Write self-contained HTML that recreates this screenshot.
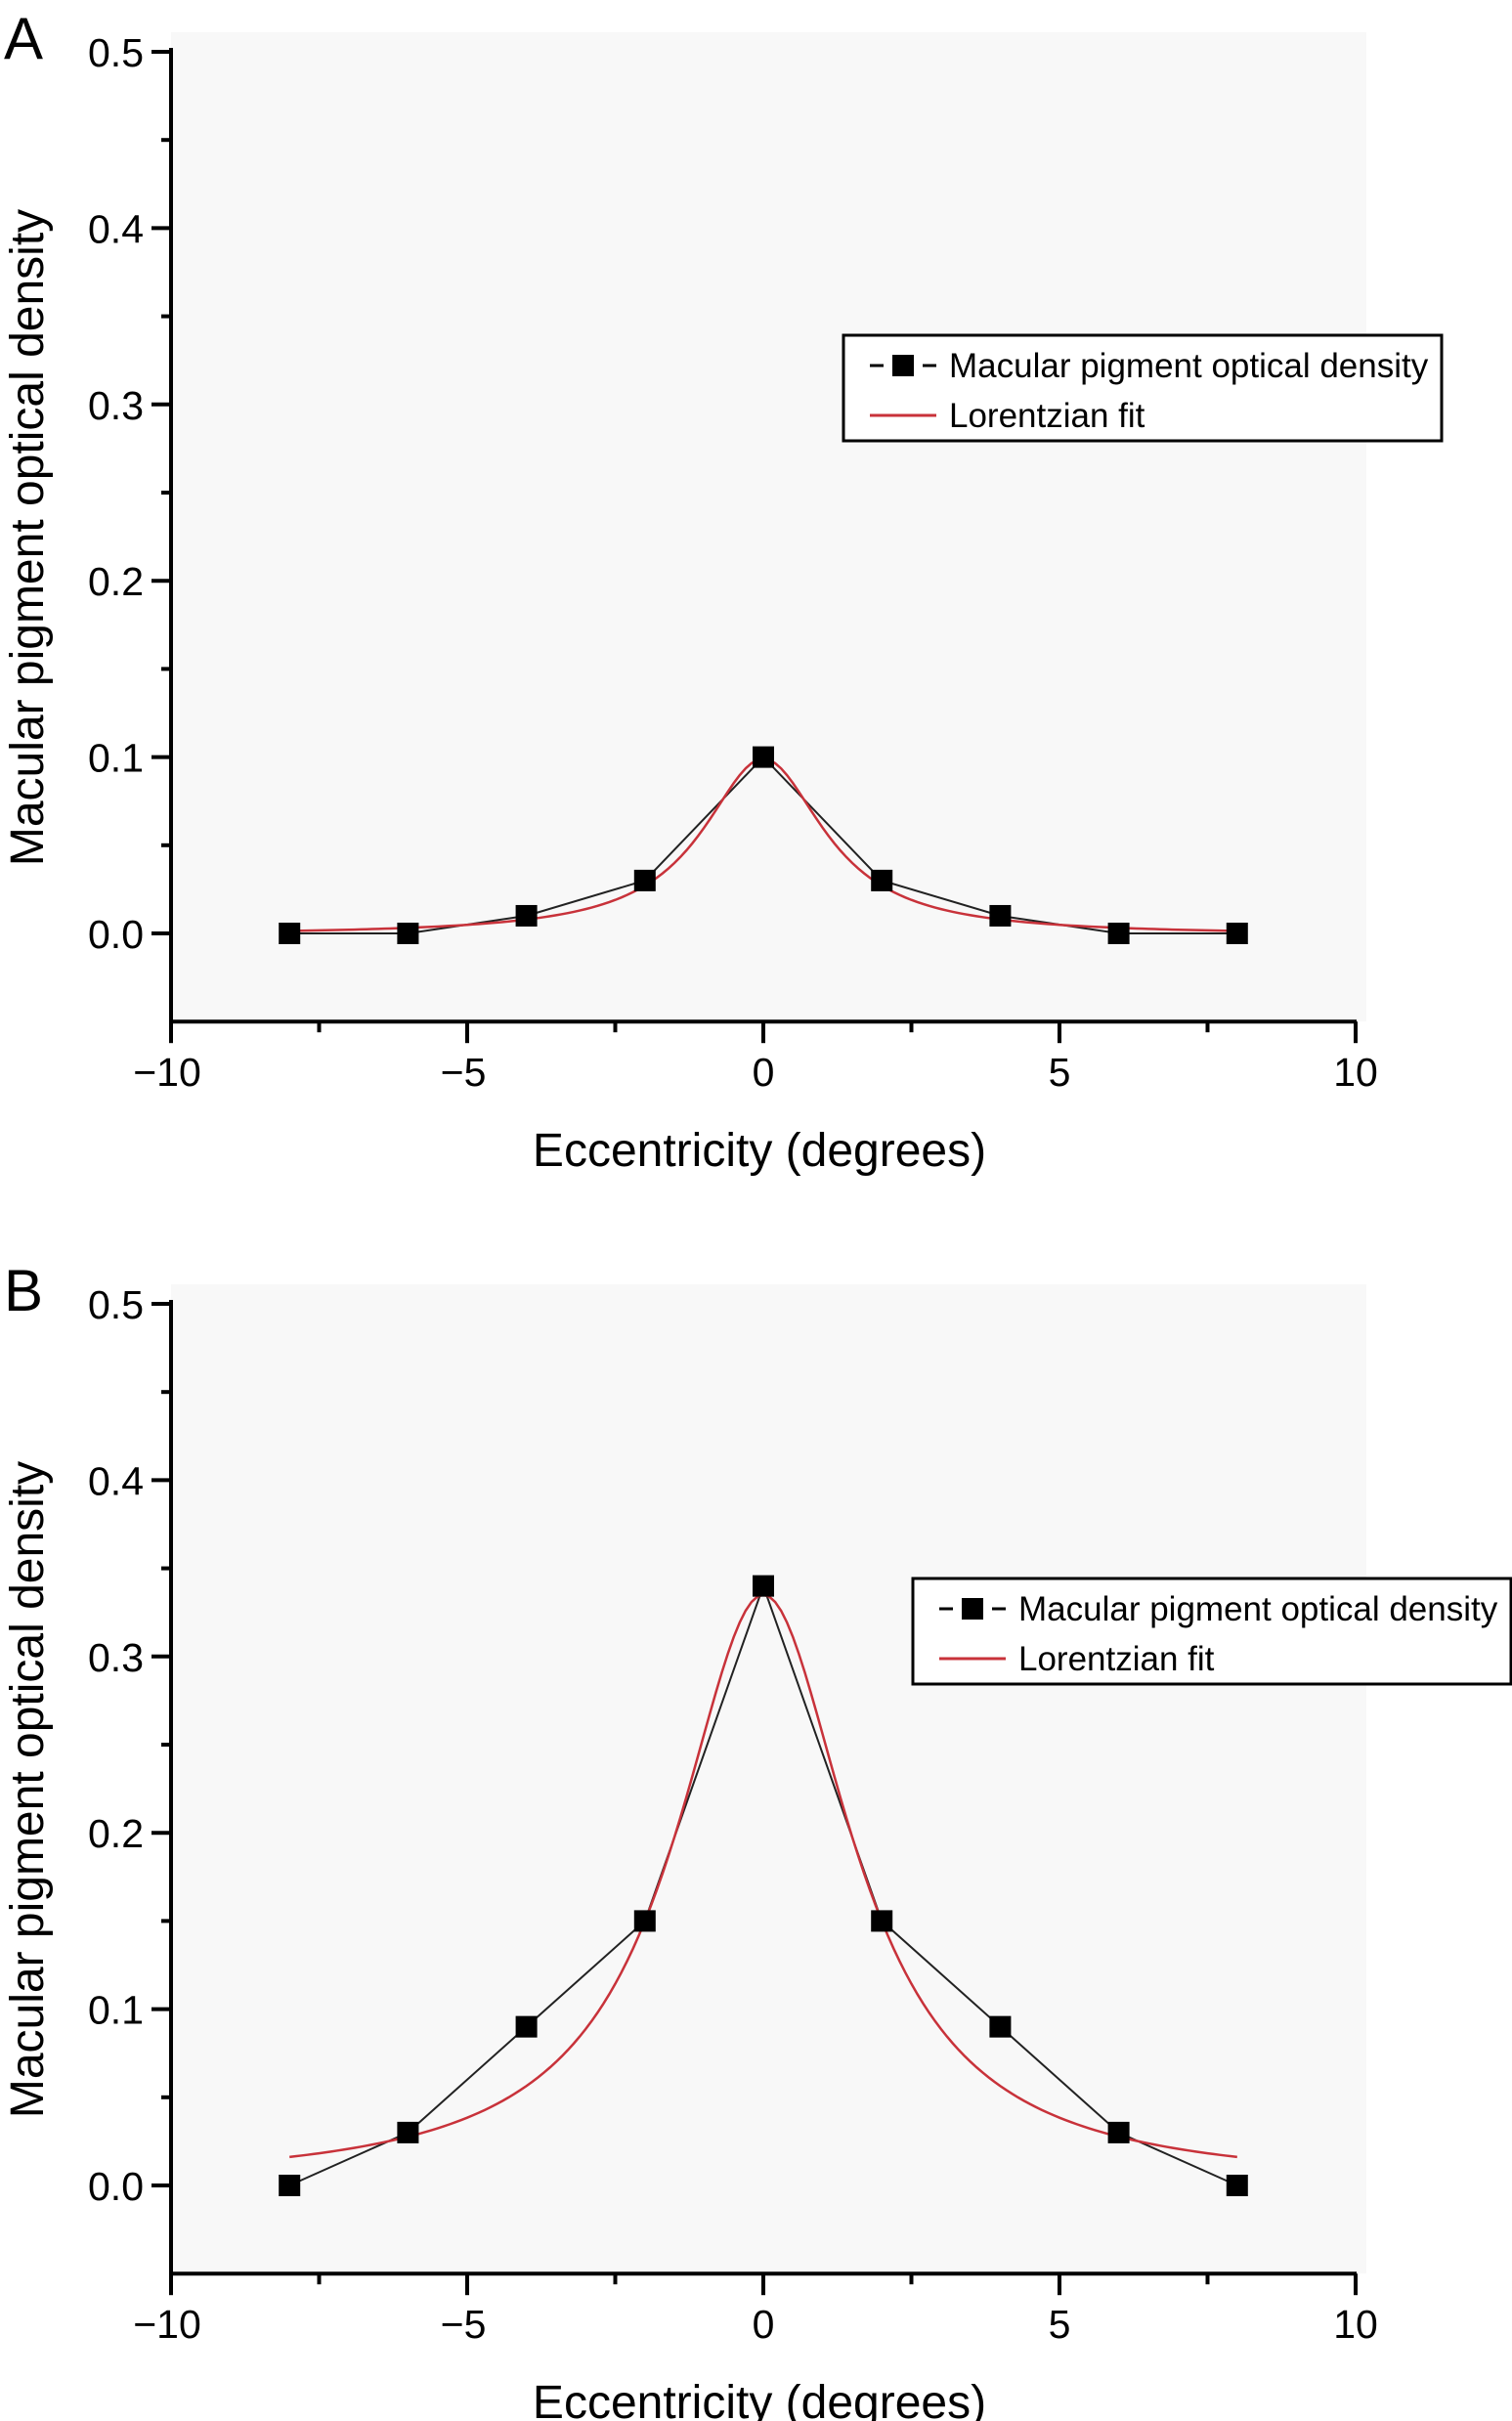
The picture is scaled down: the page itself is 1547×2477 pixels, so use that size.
<!DOCTYPE html>
<html><head><meta charset="utf-8"><style>
html,body{margin:0;padding:0;background:#fff;}
svg{display:block;font-family:"Liberation Sans",Arial,sans-serif;}
</style></head><body>
<svg id="fig" width="1547" height="2477" viewBox="0 0 1547 2477" xmlns="http://www.w3.org/2000/svg"></svg>
<script>
const xs = [-8,-6,-4,-2,0,2,4,6,8];
const mpodA = [0,0,0.01,0.03,0.1,0.03,0.01,0,0];
const mpodB = [0,0.03,0.09,0.15,0.34,0.15,0.09,0.03,0];
const fitA = [0.1, 1.25, -0.001];   // amplitude, half-width, offset
const fitB = [0.335, 1.8, 0.0];
const xTicks = [-10,-5,0,5,10];
const xTickLabels = ["\u221210","\u22125","0","5","10"];
const yTicks = [0,0.1,0.2,0.3,0.4,0.5];
const yTickLabels = ["0.0","0.1","0.2","0.3","0.4","0.5"];
const legendLabels = ["Macular pigment optical density","Lorentzian fit"];

const NS="http://www.w3.org/2000/svg";
const svg=document.getElementById('fig');
function mk(tag,attrs,parent){const e=document.createElementNS(NS,tag);for(const k in attrs)e.setAttribute(k,attrs[k]);(parent||svg).appendChild(e);return e;}

function panel(letter,top,data,fit,legX,legY,name){
  const g=mk('g',{});
  
  
  const X=v=>175+(v+10)*60.6;
  const y0=top+902, Y=v=>y0-v*1804;
  const yBot=Y(-0.05);
  const bg=mk('rect',{x:175,y:top-20,width:1223,height:yBot-(top-20),fill:'#f8f8f8'},g);
  
  
  const lab=mk('text',{x:4,y:top+7,'font-size':60},g);lab.textContent=letter;
  
  
  const ax=mk('path',{d:`M175 ${top-4} V${yBot} H1388`,stroke:'#000','stroke-width':4,fill:'none'},g);
  
  
  yTicks.forEach((v,i)=>{
    mk('line',{x1:155,x2:175,y1:Y(v),y2:Y(v),stroke:'#000','stroke-width':4},g);
    if(v<0.5) mk('line',{x1:165,x2:175,y1:Y(v+0.05),y2:Y(v+0.05),stroke:'#000','stroke-width':4},g);
    const t=mk('text',{x:147,y:Y(v)+15,'font-size':41,'text-anchor':'end'},g);t.textContent=yTickLabels[i];
    
    
  });
  xTicks.forEach((v,i)=>{
    mk('line',{x1:X(v),x2:X(v),y1:yBot,y2:yBot+22,stroke:'#000','stroke-width':4},g);
    if(v<10){mk('line',{x1:X(v+2.5),x2:X(v+2.5),y1:yBot,y2:yBot+11,stroke:'#000','stroke-width':4},g);}
    const t=mk('text',{x:X(v)-(v<0?4:0),y:yBot+66,'font-size':41,'text-anchor':'middle'},g);t.textContent=xTickLabels[i];
    
    
  });
  const xt=mk('text',{x:777,y:yBot+148,'font-size':48,'text-anchor':'middle'},g);xt.textContent='Eccentricity (degrees)';
  
  
  const yt=mk('text',{x:0,y:0,'font-size':48,'text-anchor':'middle',transform:`translate(44 ${top+497}) rotate(-90)`},g);yt.textContent='Macular pigment optical density';
  
  
  const pl=mk('polyline',{points:xs.map((x,i)=>X(x)+','+Y(data[i])).join(' '),fill:'none',stroke:'#222','stroke-width':2},g);
  
  
  let pts=[];for(let x=-8;x<=8.001;x+=0.1){const v=fit[2]+fit[0]/(1+(x/fit[1])**2);pts.push(X(x)+','+Y(v));}
  const fl=mk('polyline',{points:pts.join(' '),fill:'none',stroke:'#c8323a','stroke-width':2.5},g);
  
  
  xs.forEach((x,i)=>{
    const m=mk('rect',{x:X(x)-11,y:Y(data[i])-11,width:22,height:22,fill:'#000'},g);
    
    
  });
  const lg=mk('g',{},g);
  
  
  mk('rect',{x:legX,y:legY,width:612,height:108,fill:'#fff',stroke:'#000','stroke-width':3},lg);
  mk('line',{x1:legX+27,x2:legX+95,y1:legY+31,y2:legY+31,stroke:'#000','stroke-width':3,'stroke-dasharray':'14 40 14'},lg);
  mk('rect',{x:legX+50,y:legY+20,width:22,height:22,fill:'#000'},lg);
  mk('line',{x1:legX+27,x2:legX+95,y1:legY+82,y2:legY+82,stroke:'#c8323a','stroke-width':3},lg);
  const t1=mk('text',{x:legX+108,y:legY+43,'font-size':35},lg);t1.textContent=legendLabels[0];
  
  
  const t2=mk('text',{x:legX+108,y:legY+94,'font-size':35},lg);t2.textContent=legendLabels[1];
  
  
}
panel('A',53,mpodA,fitA,863,343,'panel-a');
panel('B',1334,mpodB,fitB,934,1615,'panel-b');
</script>
</body></html>
